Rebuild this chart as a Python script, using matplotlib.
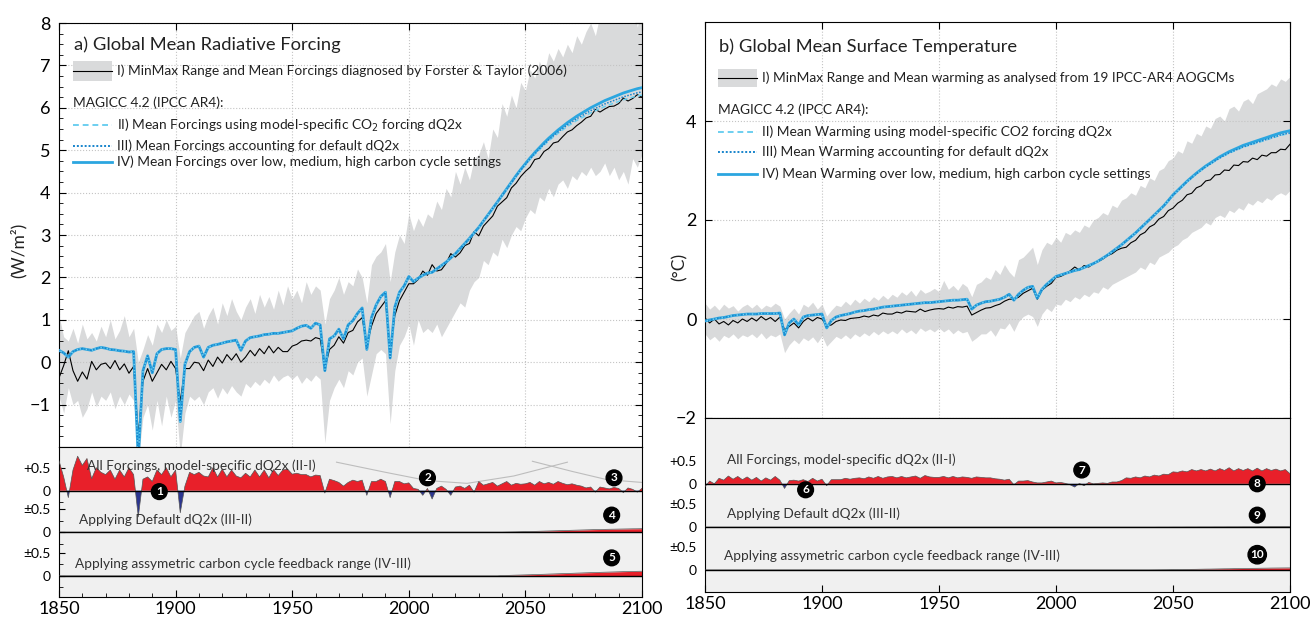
"""Global mean forcing and warming: AOGCM range vs MAGICC emulation"""

import numpy as np
import matplotlib
matplotlib.use("Agg")
import matplotlib.pyplot as plt
from matplotlib.patches import Rectangle

plt.rcParams["font.family"] = ["Lato", "DejaVu Sans"]

# =============================================================================
# Data (2-year steps, 1850-2100)
YEARS = np.arange(1850, 2101, 2)
TAIL_START = 2040  # III-II and IV-III are read as zero before this year

# a) forcing, W/m2
FORCING_I = [  # mean of Forster & Taylor (2006)
    -0.37, -0.08, 0.27, -0.20, -0.45, -0.23, -0.40, 0.02, -0.18, -0.05,
    -0.02, -0.15, 0.04, -0.18, -0.04, -0.26, -0.10, -1.73, -0.45, -0.15,
    -0.45, -0.25, -0.05, -0.18, 0.02, -0.15, -0.92, -0.15, -0.15, 0.00,
    -0.02, -0.20, 0.05, -0.10, 0.12, -0.02, 0.18, 0.05, 0.20, 0.00,
    0.12, 0.28, 0.15, 0.32, 0.20, 0.38, 0.22, 0.35, 0.25, 0.25,
    0.38, 0.42, 0.50, 0.52, 0.50, 0.58, 0.55, -0.15, 0.30, 0.40,
    0.60, 0.45, 0.70, 0.75, 0.95, 1.05, 0.40, 0.85, 1.15, 1.30,
    1.45, 0.25, 1.10, 1.45, 1.65, 1.85, 1.85, 1.95, 2.15, 2.05,
    2.30, 2.15, 2.18, 2.33, 2.56, 2.48, 2.58, 2.75, 2.80, 3.08,
    2.98, 3.21, 3.33, 3.45, 3.68, 3.78, 3.88, 4.11, 4.22, 4.38,
    4.50, 4.60, 4.78, 4.81, 4.97, 5.04, 5.17, 5.20, 5.32, 5.43,
    5.48, 5.58, 5.66, 5.76, 5.80, 5.96, 5.90, 5.97, 6.03, 6.04,
    6.10, 6.23, 6.16, 6.22, 6.31, 6.25]
FORCING_II = [  # MAGICC, model-specific dQ2x
    0.28, 0.22, 0.12, 0.25, 0.30, 0.32, 0.30, 0.28, 0.32, 0.35,
    0.33, 0.30, 0.29, 0.27, 0.26, 0.24, 0.25, -2.30, -0.20, 0.15,
    -0.25, 0.20, 0.30, 0.32, 0.32, 0.30, -1.40, -0.05, 0.25, 0.35,
    0.38, 0.12, 0.35, 0.40, 0.42, 0.45, 0.48, 0.50, 0.52, 0.28,
    0.50, 0.58, 0.60, 0.62, 0.65, 0.66, 0.68, 0.68, 0.70, 0.72,
    0.74, 0.80, 0.85, 0.87, 0.80, 0.92, 0.88, -0.20, 0.55, 0.62,
    0.78, 0.55, 0.88, 0.98, 1.15, 1.28, 0.30, 1.05, 1.35, 1.55,
    1.65, 0.10, 1.30, 1.65, 1.80, 2.02, 1.90, 1.98, 2.05, 2.10,
    2.12, 2.20, 2.28, 2.36, 2.46, 2.56, 2.68, 2.80, 2.92, 3.05,
    3.18, 3.33, 3.48, 3.63, 3.78, 3.93, 4.08, 4.23, 4.38, 4.52,
    4.65, 4.78, 4.90, 5.01, 5.12, 5.22, 5.31, 5.40, 5.48, 5.56,
    5.63, 5.70, 5.76, 5.82, 5.88, 5.93, 5.98, 6.03, 6.07, 6.11,
    6.15, 6.19, 6.22, 6.25, 6.28, 6.30]
FORCING_LO = [
    -0.80, -1.20, -0.60, -1.00, -0.90, -1.30, -1.10, -0.70, -1.05, -0.80,
    -0.90, -0.70, -1.10, -0.80, -1.00, -0.75, -0.90, -2.30, -1.30, -1.00,
    -1.60, -0.90, -1.50, -0.80, -1.30, -0.90, -2.20, -1.20, -0.80, -0.90,
    -0.80, -1.00, -0.70, -0.60, -0.85, -0.60, -0.75, -0.55, -0.70, -0.80,
    -0.50, -0.60, -0.45, -0.55, -0.40, -0.50, -0.30, -0.45, -0.35, -0.30,
    -0.40, -0.30, -0.50, -0.35, -0.45, -0.30, -0.40, -1.90, -0.90, -0.60,
    -0.40, -0.60, -0.20, -0.30, 0.00, 0.10, -0.80, -0.30, 0.20, 0.30,
    0.20, -1.45, -0.20, 0.40, 0.60, 0.90, 0.40, 1.00, 0.70, 0.80,
    0.70, 0.90, 0.60, 0.80, 1.00, 1.20, 1.40, 1.30, 1.70, 1.90,
    2.00, 2.40, 2.30, 2.60, 2.50, 2.90, 2.70, 3.00, 3.20, 3.10,
    3.40, 3.60, 3.50, 3.90, 3.80, 4.10, 3.90, 4.20, 4.30, 4.10,
    4.40, 4.30, 4.50, 4.40, 4.60, 4.40, 4.50, 4.70, 4.40, 4.60,
    4.30, 4.50, 4.20, 4.80, 4.60, 4.90]
FORCING_HI = [
    1.10, 0.60, 0.50, 0.80, 0.45, 0.90, 0.55, 0.70, 0.50, 0.85,
    0.60, 1.00, 0.55, 0.75, 1.10, 0.60, 0.80, 0.00, 0.30, 0.65,
    0.40, 0.90, 0.70, 1.00, 0.75, 0.85, 0.10, 0.70, 0.90, 1.10,
    1.20, 0.80, 1.10, 1.30, 0.90, 1.40, 1.10, 1.50, 1.20, 1.00,
    1.30, 1.50, 1.15, 1.60, 1.30, 1.55, 1.25, 1.70, 1.35, 1.80,
    1.50, 1.70, 1.40, 1.90, 1.60, 1.80, 1.70, 0.90, 1.50, 1.70,
    2.00, 1.60, 1.90, 1.80, 2.20, 2.00, 1.40, 2.30, 2.50, 2.60,
    2.80, 1.90, 2.60, 3.00, 2.80, 3.50, 3.10, 3.40, 3.20, 3.50,
    3.40, 3.80, 3.60, 4.10, 3.90, 4.50, 4.20, 4.60, 4.30, 4.80,
    4.90, 5.20, 4.80, 5.50, 5.30, 6.10, 5.80, 6.30, 6.00, 6.60,
    6.40, 6.90, 6.70, 7.10, 6.80, 7.30, 7.10, 7.40, 7.20, 7.50,
    7.30, 7.70, 7.50, 7.80, 8.00, 7.70, 8.20, 8.00, 8.40, 8.20,
    8.60, 8.30, 8.80, 8.50, 7.90, 8.40]
FORCING_III_II_TAIL = [  # 2040-2100
    0.000, 0.002, 0.004, 0.006, 0.009, 0.011, 0.014, 0.016, 0.019, 0.022,
    0.025, 0.028, 0.031, 0.034, 0.037, 0.040, 0.043, 0.046, 0.049, 0.052,
    0.055, 0.057, 0.060, 0.062, 0.064, 0.066, 0.068, 0.070, 0.072, 0.073,
    0.075]
FORCING_IV_III_TAIL = [  # 2040-2100
    0.006, 0.009, 0.012, 0.015, 0.018, 0.021, 0.024, 0.027, 0.031, 0.034,
    0.038, 0.041, 0.045, 0.048, 0.052, 0.055, 0.059, 0.062, 0.066, 0.069,
    0.072, 0.076, 0.079, 0.082, 0.085, 0.088, 0.091, 0.094, 0.096, 0.098,
    0.100]

# b) warming, degC
WARMING_I = [  # mean of 19 AOGCMs
    0.02, -0.08, 0.00, -0.10, -0.05, -0.12, -0.03, -0.08, 0.00, -0.05,
    0.02, -0.04, 0.05, -0.02, 0.03, -0.05, 0.04, -0.22, -0.15, -0.08,
    -0.18, -0.05, 0.02, -0.04, 0.03, 0.00, -0.14, -0.12, -0.05, -0.02,
    -0.03, 0.01, 0.02, 0.03, 0.06, 0.04, 0.08, 0.06, 0.12, 0.10,
    0.10, 0.14, 0.12, 0.16, 0.15, 0.14, 0.20, 0.15, 0.18, 0.20,
    0.21, 0.20, 0.24, 0.22, 0.25, 0.24, 0.26, 0.08, 0.13, 0.18,
    0.22, 0.23, 0.27, 0.30, 0.36, 0.40, 0.40, 0.44, 0.52, 0.57,
    0.62, 0.40, 0.58, 0.66, 0.72, 0.84, 0.86, 0.91, 0.97, 1.05,
    0.99, 1.08, 1.05, 1.12, 1.16, 1.21, 1.28, 1.32, 1.39, 1.43,
    1.45, 1.54, 1.59, 1.70, 1.75, 1.86, 1.91, 2.02, 2.07, 2.19,
    2.24, 2.34, 2.40, 2.51, 2.54, 2.65, 2.69, 2.79, 2.81, 2.91,
    2.92, 3.01, 3.00, 3.11, 3.10, 3.18, 3.17, 3.25, 3.22, 3.31,
    3.29, 3.36, 3.36, 3.43, 3.42, 3.53]
WARMING_II = [
    -0.04, -0.02, 0.00, 0.02, 0.03, 0.05, 0.07, 0.08, 0.09, 0.10,
    0.10, 0.10, 0.11, 0.11, 0.11, 0.11, 0.12, -0.32, -0.08, 0.00,
    -0.12, 0.04, 0.07, 0.08, 0.09, 0.10, -0.18, -0.03, 0.04, 0.07,
    0.09, 0.11, 0.14, 0.16, 0.17, 0.19, 0.20, 0.22, 0.24, 0.25,
    0.26, 0.27, 0.28, 0.29, 0.30, 0.31, 0.32, 0.33, 0.33, 0.34,
    0.35, 0.36, 0.37, 0.38, 0.38, 0.39, 0.40, 0.20, 0.28, 0.32,
    0.35, 0.36, 0.38, 0.40, 0.44, 0.50, 0.38, 0.50, 0.58, 0.64,
    0.66, 0.42, 0.60, 0.70, 0.78, 0.86, 0.89, 0.92, 0.95, 0.98,
    1.00, 1.04, 1.08, 1.12, 1.17, 1.23, 1.29, 1.36, 1.43, 1.50,
    1.58, 1.66, 1.74, 1.83, 1.92, 2.01, 2.10, 2.19, 2.28, 2.39,
    2.50, 2.59, 2.68, 2.77, 2.85, 2.93, 3.00, 3.07, 3.13, 3.19,
    3.25, 3.30, 3.35, 3.39, 3.43, 3.47, 3.50, 3.53, 3.56, 3.59,
    3.62, 3.65, 3.68, 3.71, 3.73, 3.75]
WARMING_LO = [
    -0.30, -0.42, -0.35, -0.45, -0.33, -0.38, -0.30, -0.40, -0.32, -0.36,
    -0.30, -0.38, -0.28, -0.40, -0.32, -0.36, -0.30, -0.68, -0.52, -0.42,
    -0.50, -0.38, -0.44, -0.36, -0.48, -0.34, -0.55, -0.45, -0.35, -0.40,
    -0.32, -0.40, -0.30, -0.36, -0.28, -0.34, -0.25, -0.32, -0.24, -0.30,
    -0.24, -0.30, -0.20, -0.28, -0.22, -0.30, -0.18, -0.25, -0.20, -0.26,
    -0.18, -0.26, -0.20, -0.30, -0.22, -0.28, -0.25, -0.45, -0.38, -0.30,
    -0.30, -0.22, -0.35, -0.18, -0.20, -0.08, -0.25, -0.05, 0.05, 0.10,
    0.05, -0.15, 0.10, 0.22, 0.15, 0.30, 0.28, 0.40, 0.35, 0.45,
    0.40, 0.50, 0.45, 0.55, 0.52, 0.65, 0.60, 0.70, 0.75, 0.80,
    0.85, 0.90, 0.95, 1.05, 1.00, 1.15, 1.10, 1.25, 1.30, 1.35,
    1.45, 1.50, 1.60, 1.65, 1.75, 1.80, 1.85, 1.95, 1.90, 2.05,
    2.10, 2.05, 2.20, 2.15, 2.25, 2.20, 2.35, 2.30, 2.40, 2.35,
    2.45, 2.40, 2.50, 2.55, 2.50, 2.60]
WARMING_HI = [
    0.32, 0.20, 0.28, 0.18, 0.30, 0.22, 0.27, 0.16, 0.25, 0.30,
    0.22, 0.30, 0.20, 0.28, 0.24, 0.32, 0.26, 0.00, 0.12, 0.22,
    0.10, 0.30, 0.24, 0.34, 0.20, 0.30, 0.06, 0.18, 0.28, 0.25,
    0.36, 0.28, 0.40, 0.32, 0.42, 0.35, 0.45, 0.38, 0.48, 0.40,
    0.50, 0.44, 0.55, 0.48, 0.58, 0.46, 0.60, 0.52, 0.56, 0.62,
    0.55, 0.78, 0.60, 0.68, 0.58, 0.72, 0.65, 0.45, 0.70, 0.75,
    0.85, 0.80, 1.00, 0.90, 1.10, 0.95, 0.85, 1.20, 1.25, 1.35,
    1.45, 1.10, 1.40, 1.55, 1.50, 1.65, 1.55, 1.75, 1.70, 1.80,
    1.75, 1.90, 1.85, 2.00, 2.05, 2.15, 2.10, 2.30, 2.25, 2.40,
    2.45, 2.55, 2.50, 2.70, 2.65, 2.85, 2.80, 3.00, 3.05, 3.20,
    3.25, 3.40, 3.35, 3.60, 3.55, 3.75, 3.70, 3.90, 3.85, 4.05,
    4.10, 4.00, 4.25, 4.30, 4.20, 4.40, 4.45, 4.35, 4.55, 4.60,
    4.65, 4.75, 4.70, 4.85, 4.80, 4.90]
WARMING_III_II_TAIL = [  # 2040-2100
    0.000, 0.000, 0.001, 0.001, 0.001, 0.002, 0.002, 0.002, 0.003, 0.003,
    0.003, 0.004, 0.004, 0.004, 0.005, 0.005, 0.005, 0.006, 0.006, 0.006,
    0.007, 0.007, 0.007, 0.008, 0.008, 0.008, 0.009, 0.009, 0.009, 0.010,
    0.010]
WARMING_IV_III_TAIL = [  # 2040-2100
    0.000, 0.001, 0.002, 0.003, 0.004, 0.006, 0.007, 0.009, 0.010, 0.012,
    0.013, 0.015, 0.017, 0.018, 0.020, 0.022, 0.024, 0.025, 0.027, 0.029,
    0.031, 0.032, 0.034, 0.035, 0.037, 0.038, 0.040, 0.041, 0.042, 0.043,
    0.044]

# Faint leader arcs in panel a (offset above the II-I baseline)
ARC1_YEARS = [1969, 1990, 2008, 2025, 2045, 2068]
ARC1_VALS = [0.62, 0.40, 0.22, 0.16, 0.32, 0.62]
ARC2_YEARS = [2053, 2070, 2085, 2100]
ARC2_VALS = [0.64, 0.42, 0.24, 0.18]

# Numbered callouts: label, year, strip (0 = top), offset from strip baseline
MARKS_A = [("1", 1893, 0, -0.02), ("2", 2008, 0, 0.28), ("3", 2088, 0, 0.28),
           ("4", 2087, 1, 0.37), ("5", 2087, 2, 0.39)]
MARKS_B = [("6", 1893, 0, -0.13), ("7", 2011, 0, 0.30), ("8", 2086, 0, 0.0),
           ("9", 2086, 1, 0.26), ("10", 2086, 2, 0.33)]

TITLE_A = "a) Global Mean Radiative Forcing"
TITLE_B = "b) Global Mean Surface Temperature"
LEG_A = ["I) MinMax Range and Mean Forcings diagnosed by Forster & Taylor (2006)",
         "II) Mean Forcings using model-specific CO$_2$ forcing dQ2x",
         "III) Mean Forcings accounting for default dQ2x",
         "IV) Mean Forcings over low, medium, high carbon cycle settings"]
LEG_B = ["I) MinMax Range and Mean warming as analysed from 19 IPCC-AR4 AOGCMs",
         "II) Mean Warming using model-specific CO2 forcing dQ2x",
         "III) Mean Warming accounting for default dQ2x",
         "IV) Mean Warming over low, medium, high carbon cycle settings"]
STRIP_TEXT = ["All Forcings, model-specific dQ2x (II-I)",
              "Applying Default dQ2x (III-II)",
              "Applying assymetric carbon cycle feedback range (IV-III)"]

# =============================================================================
# Styling
BAND = "#d9dadb"
C_II = "#6ccff0"
C_III = "#1784cc"
C_IV = "#2ba6e0"
RED = "#e8202a"
NAVY = "#2b3590"
LOW_BG = "#f0f0f0"
GRID = "#c4c4c4"
W, H = 1314, 619


def frac(x0, y0, x1, y1):
    """Pixel box -> figure fraction rect"""
    return [x0 / W, 1 - y1 / H, (x1 - x0) / W, (y1 - y0) / H]


def full(tail):
    n_head = len(YEARS) - len(tail)
    return np.array([0.0] * n_head + tail)


def draw_main(ax, lo, hi, m1, m2, d2, d3):
    m3 = m2 + d2
    m4 = m3 + d3
    ax.fill_between(YEARS, lo, hi, color=BAND, lw=0, zorder=1)
    ax.plot(YEARS, m1, color="black", lw=0.8, zorder=3)
    ax.plot(YEARS, m4, color=C_IV, lw=2.0, zorder=4)
    ax.plot(YEARS, m2, color=C_II, lw=1.1, ls=(0, (3, 2)), zorder=5)
    ax.plot(YEARS, m3, color=C_III, lw=1.1, ls=(0, (1, 1)), zorder=6)
    ax.set_xlim(1850, 2100)
    ax.set_xticks(np.arange(1850, 2101, 50))
    ax.set_xticklabels([])
    ax.grid(True, ls=":", color=GRID, lw=0.8)
    ax.tick_params(which="both", direction="in", top=True, right=True,
                   bottom=False, labelsize=13, pad=6)
    ax.tick_params(which="major", length=5)
    ax.tick_params(which="minor", length=3)


def draw_legend(ax, title, texts, ys, x0, x1):
    ax.text(x0 + 0.002, ys[0], title, transform=ax.transAxes, fontsize=13.2,
            va="center", ha="left", color="#222222")
    # gray box + black line for I
    ax.add_patch(Rectangle((x0, ys[1] - 0.023), x1 - x0, 0.046,
                           transform=ax.transAxes, color=BAND, lw=0, zorder=7))
    ax.plot([x0, x1], [ys[1], ys[1]], transform=ax.transAxes, color="black",
            lw=0.8, zorder=8)
    ax.text(x1 + 0.008, ys[1], texts[0], transform=ax.transAxes, fontsize=9.9,
            va="center", color="#222222", zorder=8)
    ax.text(x0, ys[2], "MAGICC 4.2 (IPCC AR4):", transform=ax.transAxes,
            fontsize=9.9, va="center", color="#222222")
    styles = [(C_II, (0, (3, 2)), 1.4), (C_III, (0, (1, 1)), 1.4),
              (C_IV, "-", 2.0)]
    for k, (col, ls, lw) in enumerate(styles):
        y = ys[3 + k]
        ax.plot([x0, x1], [y, y], transform=ax.transAxes, color=col, ls=ls,
                lw=lw, zorder=8)
        ax.text(x1 + 0.008, y, texts[1 + k], transform=ax.transAxes,
                fontsize=9.9, va="center", color="#222222", zorder=8)


def draw_strips(axl, bases, diffs, text_pos, marks, minor):
    axl.set_facecolor(LOW_BG)
    for base, diff in zip(bases, diffs):
        top = base + diff
        axl.fill_between(YEARS, base, top, where=diff >= 0, interpolate=True,
                         color=RED, lw=0, zorder=2)
        axl.fill_between(YEARS, base, top, where=diff <= 0, interpolate=True,
                         color=NAVY, lw=0, zorder=2)
        axl.plot(YEARS, top, color="#555555", lw=0.5, zorder=3)
        axl.axhline(base, color="black", lw=1.0, zorder=4)
    for txt, base, (yr, off) in zip(STRIP_TEXT, bases, text_pos):
        axl.text(yr, base + off, txt, fontsize=9.8, va="center", ha="left",
                 color="#333333", zorder=5)
    for label, yr, strip, off in marks:
        axl.text(yr, bases[strip] + off, label, ha="center", va="center",
                 color="white", fontsize=8.5, fontweight="bold", zorder=6,
                 bbox=dict(boxstyle="circle,pad=0.2", fc="black", ec="black"))
    ticks = [bases[2], bases[2] + 0.5, bases[1], bases[1] + 0.5,
             bases[0], bases[0] + 0.5]
    axl.set_yticks(ticks)
    axl.set_yticklabels(["0", "±0.5", "0", "±0.5", "0", "+0.5"])
    if minor:
        axl.set_yticks([b + s * 0.25 for b in bases for s in (-1, 1)],
                       minor=True)
    axl.set_xlim(1850, 2100)
    axl.set_xticks(np.arange(1850, 2101, 50))
    axl.tick_params(axis="x", labelsize=13, pad=3, direction="in",
                    length=5)
    axl.tick_params(axis="y", labelsize=10, direction="in", length=4,
                    pad=6)
    axl.tick_params(axis="y", which="minor", direction="in", length=3)


# =============================================================================
fig = plt.figure(figsize=(W / 100, H / 100), dpi=100)

# ---- panel a
ax_a = fig.add_axes(frac(59, 23, 642, 447))
ax_al = fig.add_axes(frac(59, 447, 642, 597))
f1 = np.array(FORCING_I)
f2 = np.array(FORCING_II)
fd2 = full(FORCING_III_II_TAIL)
fd3 = full(FORCING_IV_III_TAIL)
draw_main(ax_a, FORCING_LO, FORCING_HI, f1, f2, fd2, fd3)
ax_a.set_ylim(-2, 8)
ax_a.set_yticks(np.arange(-1, 9, 1))
ax_a.set_yticks(np.arange(-2, 8.01, 0.25), minor=True)
ax_a.tick_params(axis="x", which="minor", top=False)
draw_legend(ax_a, TITLE_A, LEG_A,
            [0.948, 0.887, 0.811, 0.759, 0.710, 0.672], 0.024, 0.091)

bases_a = [1.85, 0.95, 0.0]
ax_al.set_ylim(-0.46, 2.8)
ax_al.plot(ARC1_YEARS, bases_a[0] + np.array(ARC1_VALS), color="#bdbdbd",
           lw=0.8, zorder=1)
ax_al.plot(ARC2_YEARS, bases_a[0] + np.array(ARC2_VALS), color="#bdbdbd",
           lw=0.8, zorder=1)
draw_strips(ax_al, bases_a, [f2 - f1, fd2, fd3],
            [(1862, 0.54), (1858.5, 0.26), (1857, 0.26)], MARKS_A, True)
ax_al.set_xticks(np.arange(1850, 2101, 10), minor=True)
ax_al.tick_params(axis="x", which="minor", direction="in", length=3)
fig.text(18 / W, 1 - 250 / H, "(W/m²)", rotation=90, ha="center",
         va="center", fontsize=12.5, color="#222222")

# ---- panel b
ax_b = fig.add_axes(frac(705, 22, 1290, 418))
ax_bl = fig.add_axes(frac(705, 418, 1290, 592))
w1 = np.array(WARMING_I)
w2 = np.array(WARMING_II)
wd2 = full(WARMING_III_II_TAIL)
wd3 = full(WARMING_IV_III_TAIL)
draw_main(ax_b, WARMING_LO, WARMING_HI, w1, w2, wd2, wd3)
ax_b.set_ylim(-2, 6)
ax_b.set_yticks([-2, 0, 2, 4])
draw_legend(ax_b, TITLE_B, LEG_B,
            [0.937, 0.859, 0.778, 0.722, 0.672, 0.616], 0.022, 0.089)

bases_b = [1.87, 0.93, 0.0]
ax_bl.set_ylim(-0.48, 3.3)
draw_strips(ax_bl, bases_b, [w2 - w1, wd2, wd3],
            [(1859.5, 0.52), (1859.5, 0.30), (1858, 0.30)], MARKS_B, False)
ax_bl.tick_params(axis="y", length=0)
fig.text(680 / W, 1 - 267 / H, "(°C)", rotation=90, ha="center",
         va="center", fontsize=12.5, color="#222222")

plt.savefig("out.png", dpi=100)
print("Finished.")
